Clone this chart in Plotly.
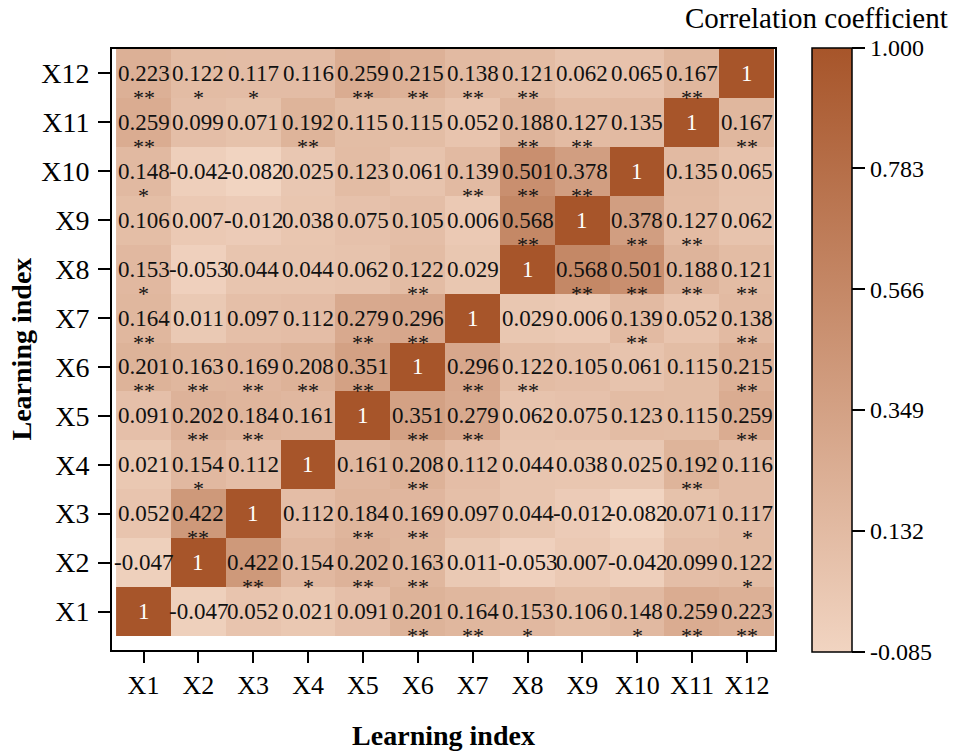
import plotly.graph_objects as go

labels = ["X1", "X2", "X3", "X4", "X5", "X6", "X7", "X8", "X9", "X10", "X11", "X12"]

# correlation matrix rows (X1 .. X12), columns (X1 .. X12)
r_X1 = [1, -0.047, 0.052, 0.021, 0.091, 0.201, 0.164, 0.153, 0.106, 0.148, 0.259, 0.223]
r_X2 = [-0.047, 1, 0.422, 0.154, 0.202, 0.163, 0.011, -0.053, 0.007, -0.042, 0.099, 0.122]
r_X3 = [0.052, 0.422, 1, 0.112, 0.184, 0.169, 0.097, 0.044, -0.012, -0.082, 0.071, 0.117]
r_X4 = [0.021, 0.154, 0.112, 1, 0.161, 0.208, 0.112, 0.044, 0.038, 0.025, 0.192, 0.116]
r_X5 = [0.091, 0.202, 0.184, 0.161, 1, 0.351, 0.279, 0.062, 0.075, 0.123, 0.115, 0.259]
r_X6 = [0.201, 0.163, 0.169, 0.208, 0.351, 1, 0.296, 0.122, 0.105, 0.061, 0.115, 0.215]
r_X7 = [0.164, 0.011, 0.097, 0.112, 0.279, 0.296, 1, 0.029, 0.006, 0.139, 0.052, 0.138]
r_X8 = [0.153, -0.053, 0.044, 0.044, 0.062, 0.122, 0.029, 1, 0.568, 0.501, 0.188, 0.121]
r_X9 = [0.106, 0.007, -0.012, 0.038, 0.075, 0.105, 0.006, 0.568, 1, 0.378, 0.127, 0.062]
r_X10 = [0.148, -0.042, -0.082, 0.025, 0.123, 0.061, 0.139, 0.501, 0.378, 1, 0.135, 0.065]
r_X11 = [0.259, 0.099, 0.071, 0.192, 0.115, 0.115, 0.052, 0.188, 0.127, 0.135, 1, 0.167]
r_X12 = [0.223, 0.122, 0.117, 0.116, 0.259, 0.215, 0.138, 0.121, 0.062, 0.065, 0.167, 1]

# significance marks rows (X1 .. X12)
s_X1 = ["", "", "", "", "", "**", "**", "*", "", "*", "**", "**"]
s_X2 = ["", "", "**", "*", "**", "**", "", "", "", "", "", "*"]
s_X3 = ["", "**", "", "", "**", "**", "", "", "", "", "", "*"]
s_X4 = ["", "*", "", "", "", "**", "", "", "", "", "**", ""]
s_X5 = ["", "**", "**", "", "", "**", "**", "", "", "", "", "**"]
s_X6 = ["**", "**", "**", "**", "**", "", "**", "**", "", "", "", "**"]
s_X7 = ["**", "", "", "", "**", "**", "", "", "", "**", "", "**"]
s_X8 = ["*", "", "", "", "", "**", "", "", "**", "**", "**", "**"]
s_X9 = ["", "", "", "", "", "", "", "**", "", "**", "**", ""]
s_X10 = ["*", "", "", "", "", "", "**", "**", "**", "", "", ""]
s_X11 = ["**", "", "", "**", "", "", "", "**", "**", "", "", "**"]
s_X12 = ["**", "*", "*", "", "**", "**", "**", "**", "", "", "**", ""]

cbar_ticks = [-0.085, 0.132, 0.349, 0.566, 0.783, 1.000]

z = [r_X1, r_X2, r_X3, r_X4, r_X5, r_X6, r_X7, r_X8, r_X9, r_X10, r_X11, r_X12]
sig = [s_X1, s_X2, s_X3, s_X4, s_X5, s_X6, s_X7, s_X8, s_X9, s_X10, s_X11, s_X12]

FONT = "Liberation Serif"

fig = go.Figure(go.Heatmap(
    z=z, x=labels, y=labels,
    zmin=cbar_ticks[0], zmax=cbar_ticks[-1],
    colorscale=[[0, "#F1D4C1"], [1, "#A7552A"]],
    showscale=True,
    colorbar=dict(
        thickness=40, len=1.005, lenmode="fraction",
        x=1.0558, xanchor="left", xpad=0, y=0.5, yanchor="middle", ypad=0,
        outlinewidth=1.5, outlinecolor="black",
        tickvals=cbar_ticks, ticktext=[f"{v:.3f}" for v in cbar_ticks],
        ticks="outside", ticklen=13, tickwidth=1.5, tickcolor="black",
        tickfont=dict(family=FONT, size=24, color="black"),
    ),
))

annotations = []
for i, row in enumerate(z):
    for j, v in enumerate(row):
        txt = "1" if v == 1 else f"{v:.3f}"
        annotations.append(dict(
            x=labels[j], y=labels[i], xref="x", yref="y", text=txt, showarrow=False,
            font=dict(family=FONT, size=23, color="white" if v == 1 else "#111111"),
        ))
        if sig[i][j]:
            annotations.append(dict(
                x=labels[j], y=labels[i], xref="x", yref="y", text=sig[i][j], showarrow=False,
                yshift=-24,
                font=dict(family=FONT, size=22, color="#111111"),
            ))

annotations.append(dict(
    x=1.0, y=1.0516, xref="paper", yref="paper", xanchor="right", yanchor="middle",
    xshift=175, text="Correlation coefficient", showarrow=False,
    font=dict(family=FONT, size=29, color="black"),
))
annotations.append(dict(
    x=0, y=0.5, xref="paper", yref="paper", xanchor="center", yanchor="middle",
    xshift=-91, textangle=-90, text="<b>Learning index</b>", showarrow=False,
    font=dict(family=FONT, size=28, color="black"),
))

fig.update_layout(
    width=955, height=753,
    margin=dict(l=112, r=180, t=49, b=103),
    paper_bgcolor="white", plot_bgcolor="white",
    font=dict(family=FONT, color="black"),
    annotations=annotations,
    xaxis=dict(
        title=dict(text="<b>Learning index</b>", font=dict(family=FONT, size=28), standoff=26),
        showline=True, mirror=True, linecolor="black", linewidth=2,
        ticks="outside", ticklen=11, tickwidth=2, tickcolor="black",
        tickfont=dict(family=FONT, size=26), showgrid=False, zeroline=False,
        automargin=False,
    ),
    yaxis=dict(
        showline=True, mirror=True, linecolor="black", linewidth=2,
        ticks="outside", ticklen=12, tickwidth=2, tickcolor="black",
        ticklabelstandoff=3,
        tickfont=dict(family=FONT, size=28), showgrid=False, zeroline=False,
        automargin=False,
    ),
)

fig.write_html("out.html", config={"displayModeBar": False},
               post_script="document.body.style.margin='0';")
